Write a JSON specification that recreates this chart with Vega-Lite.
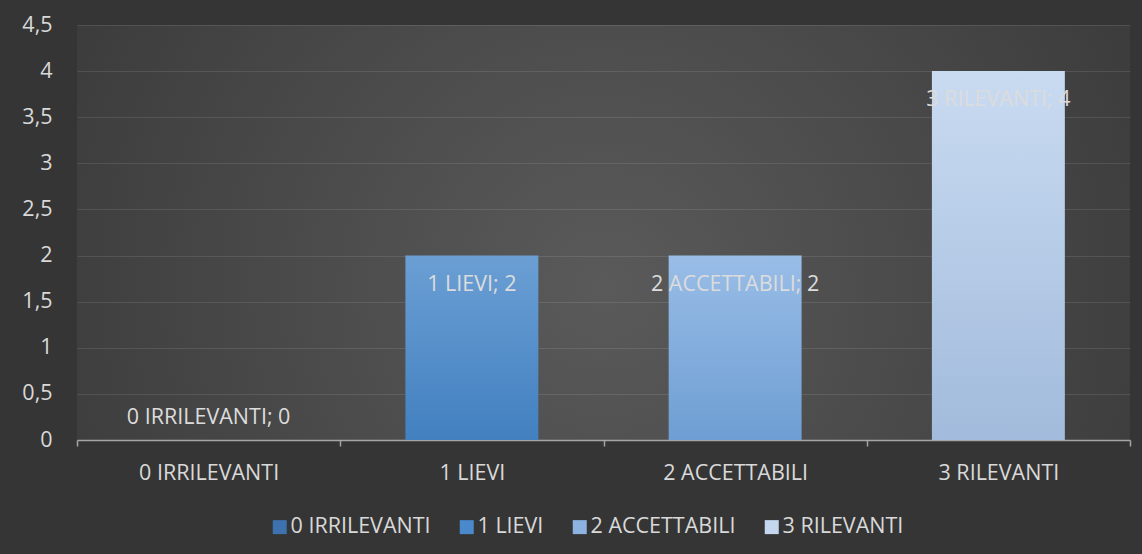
{
  "$schema": "https://vega.github.io/schema/vega-lite/v6.json",
  "width": 1053,
  "height": 415,
  "autosize": {"type": "none"},
  "padding": {"left": 77, "top": 25, "right": 12, "bottom": 114},
  "background": "#353535",
  "config": {
    "font": "Open Sans",
    "view": {
      "stroke": null,
      "fill": {
        "gradient": "radial",
        "x1": 0.5, "y1": 0.55, "r1": 0,
        "x2": 0.5, "y2": 0.55, "r2": 0.75,
        "stops": [
          {"offset": 0, "color": "#5a5a5a"},
          {"offset": 1, "color": "#323232"}
        ]
      }
    },
    "axis": {
      "labelColor": "#d9d9d9",
      "labelFontSize": 21.5,
      "labelFont": "Open Sans",
      "title": null
    },
    "legend": {
      "labelColor": "#d9d9d9",
      "labelFontSize": 21.5,
      "labelFont": "Open Sans"
    }
  },
  "data": {
    "values": [
      {"cat": "0 IRRILEVANTI", "val": 0, "label": "0 IRRILEVANTI; 0"},
      {"cat": "1 LIEVI", "val": 2, "label": "1 LIEVI; 2"},
      {"cat": "2 ACCETTABILI", "val": 2, "label": "2 ACCETTABILI; 2"},
      {"cat": "3 RILEVANTI", "val": 4, "label": "3 RILEVANTI; 4"}
    ]
  },
  "encoding": {
    "x": {
      "field": "cat",
      "type": "nominal",
      "sort": null,
      "scale": {"paddingInner": 0, "paddingOuter": 0},
      "axis": {
        "labelAngle": 0,
        "tickBand": "extent",
        "domainColor": "#a6a6a6",
        "domainWidth": 1.5,
        "tickColor": "#a6a6a6",
        "tickWidth": 1.5,
        "tickSize": 6,
        "labelPadding": 16,
        "grid": false
      }
    },
    "y": {
      "field": "val",
      "type": "quantitative",
      "scale": {"domain": [0, 4.5], "nice": false},
      "axis": {
        "values": [0, 0.5, 1, 1.5, 2, 2.5, 3, 3.5, 4, 4.5],
        "labelExpr": "replace(toString(datum.value), '.', ',')",
        "domain": false,
        "ticks": false,
        "labelPadding": 25,
        "grid": true,
        "gridColor": "#ffffff",
        "gridOpacity": 0.1,
        "gridWidth": 1.2
      }
    }
  },
  "layer": [
    {
      "mark": {"type": "bar", "width": {"band": 0.505}},
      "encoding": {
        "fill": {
          "field": "cat",
          "type": "nominal",
          "sort": null,
          "scale": {
            "domain": ["0 IRRILEVANTI", "1 LIEVI", "2 ACCETTABILI", "3 RILEVANTI"],
            "range": ["#3d72ae", "#4a89cc", "#8cb3e2", "#c4d7ef"]
          },
          "legend": {
            "title": null,
            "orient": "none",
            "legendX": 192,
            "legendY": 491,
            "direction": "horizontal",
            "symbolType": "square",
            "symbolSize": 196,
            "symbolStrokeWidth": 0,
            "columnPadding": 25,
            "labelOffset": 0
          },
          "condition": [
            {"test": "datum.cat === '1 LIEVI'", "value": {"gradient": "linear", "x1": 0, "y1": 0, "x2": 0, "y2": 1, "stops": [{"offset": 0, "color": "#6b9fd4"}, {"offset": 1, "color": "#4280c0"}]}},
            {"test": "datum.cat === '2 ACCETTABILI'", "value": {"gradient": "linear", "x1": 0, "y1": 0, "x2": 0, "y2": 1, "stops": [{"offset": 0, "color": "#99bde7"}, {"offset": 1, "color": "#6e9ed3"}]}},
            {"test": "datum.cat === '3 RILEVANTI'", "value": {"gradient": "linear", "x1": 0, "y1": 0, "x2": 0, "y2": 1, "stops": [{"offset": 0, "color": "#c9dbf1"}, {"offset": 1, "color": "#a2bbdc"}]}}
          ]
        }
      }
    },
    {
      "transform": [{"filter": "datum.val > 0"}],
      "mark": {"type": "text", "dy": 29, "fontSize": 21.5, "color": "#dcdcdc", "font": "Open Sans"},
      "encoding": {"text": {"field": "label"}}
    },
    {
      "transform": [{"filter": "datum.val == 0"}],
      "mark": {"type": "text", "dy": -22, "fontSize": 21.5, "color": "#dcdcdc", "font": "Open Sans"},
      "encoding": {"text": {"field": "label"}}
    }
  ]
}
